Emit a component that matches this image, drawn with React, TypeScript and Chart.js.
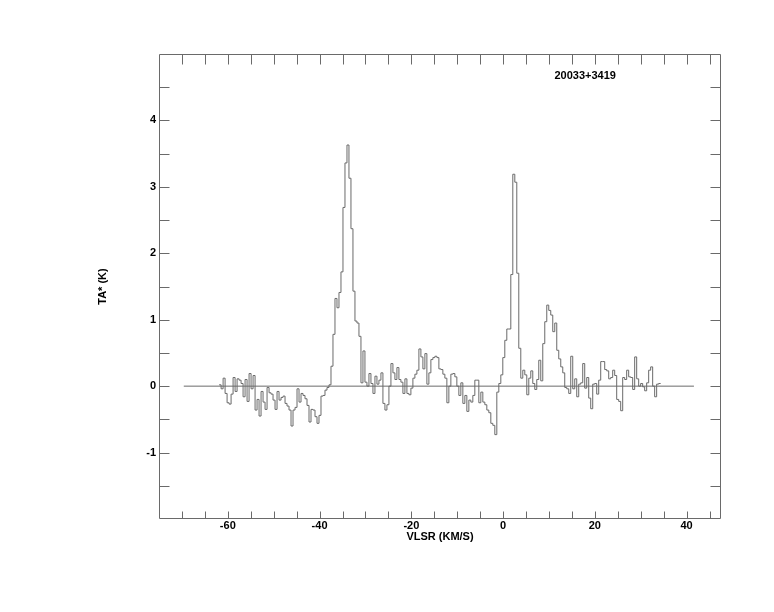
import React, { useEffect, useRef } from "react";
import { Chart, registerables } from "chart.js";

Chart.register(...registerables);

// ---- text ----
const SOURCE_NAME = "20033+3419";
const X_TITLE = "VLSR (KM/S)";
const Y_TITLE = "TA* (K)";

// ---- axes ----
const X_MIN = -75;
const X_MAX = 47.5;
const Y_MIN = -2;
const Y_MAX = 5;
const X_LABEL_TICKS = [-60, -40, -20, 0, 20, 40];
const Y_LABEL_TICKS = [-1, 0, 1, 2, 3, 4];
const X_MARK_TICKS = [-70, -65, -60, -55, -50, -45, -40, -35, -30, -25, -20, -15, -10, -5, 0, 5, 10, 15, 20, 25, 30, 35, 40, 45];
const Y_MARK_TICKS = [-1.5, -1, -0.5, 0, 0.5, 1, 1.5, 2, 2.5, 3, 3.5, 4, 4.5];

// ---- spectral axis (channel grid) ----
const FIRST_CHANNEL_EDGE = -61.9; // km/s, left edge of first channel
const CHANNEL_WIDTH = 0.4355; // km/s

// ---- antenna temperature per channel (K) ----
const TA_PART1 = [
  0.02, -0.04, 0.12, -0.11, -0.25, -0.27, -0.12, 0.13, -0.08, 0.11,
  0.09, 0.04, -0.16, 0.10, -0.23, 0.19, -0.04, 0.16, -0.36, -0.20,
  -0.45, -0.08, -0.24, -0.35, -0.02, -0.10, -0.12, -0.21, -0.35, -0.08,
  -0.21, -0.17, -0.15, -0.26, -0.30, -0.36, -0.60, -0.36, -0.32, -0.04,
  -0.24, -0.11, -0.14, -0.19, -0.29, -0.54, -0.35, -0.36, -0.46, -0.56,
  -0.44, -0.15, -0.14, -0.06, -0.02, 0.02,
];
const TA_PART2 = [
  0.30, 0.78, 1.32, 1.18, 1.41, 1.72, 2.69, 3.36, 3.63, 3.13,
  2.37, 1.43, 0.98, 0.95, 0.75, 0.05, 0.53, 0.06, 0.00, 0.19,
  0.04, -0.11, 0.15, 0.03, 0.09, 0.20, -0.26, -0.36, -0.28, 0.00,
  0.34, 0.20, 0.10, 0.28, 0.10, 0.06, -0.11, 0.11, -0.11, -0.13,
  -0.03, 0.12, 0.18, 0.24, 0.56, 0.44, 0.26, 0.49, 0.03, 0.20,
  0.40, 0.43, 0.45, 0.43, 0.26, 0.25,
];
const TA_PART3 = [
  0.18, 0.12, -0.25, 0.00, 0.18, 0.19, 0.14, 0.00, -0.14, 0.05,
  -0.26, -0.14, -0.38, -0.21, -0.24, -0.14, 0.09, 0.09, -0.25, -0.09,
  -0.24, -0.28, -0.36, -0.40, -0.56, -0.59, -0.73, -0.09, 0.04, 0.17,
  0.43, 0.69, 0.86, 0.86, 1.68, 3.19, 3.07, 1.70, 0.57, 0.12,
  0.24, 0.17, -0.13, 0.12, 0.23, 0.04, -0.05, 0.10, 0.39, 0.08,
  0.64, 0.97, 1.22, 1.14, 1.07, 0.82, 0.95,
];
const TA_PART4 = [
  0.54, 0.41, 0.29, 0.20, -0.02, -0.04, -0.11, 0.45, -0.04, 0.11,
  -0.16, 0.03, 0.05, 0.34, -0.03, 0.13, -0.18, -0.34, 0.03, 0.04,
  -0.12, 0.09, 0.37, 0.37, 0.25, 0.23, 0.11, 0.13, 0.24, 0.16,
  -0.20, -0.23, -0.37, 0.13, 0.10, 0.24, 0.14, 0.13, -0.05, 0.44,
  0.11, 0.00, 0.04, -0.01, -0.07, 0.05, 0.24, 0.29, 0.00, -0.16,
  0.03, 0.04,
];

// ---- baseline ----
const BASELINE_X = [-69.6, 41.6];
const BASELINE_Y = [0, 0];

// ---- source label anchor (data coords) ----
const LABEL_X = 17.9;
const LABEL_Y = 4.67;

const FONT_FAMILY = "'Liberation Sans', Arial, Helvetica, sans-serif";

export default function App() {
  const canvasRef = useRef<HTMLCanvasElement | null>(null);

  useEffect(() => {
    const canvas = canvasRef.current;
    if (!canvas) return;

    const ta = [...TA_PART1, ...TA_PART2, ...TA_PART3, ...TA_PART4];
    const spectrum = ta.map((v, i) => ({ x: FIRST_CHANNEL_EDGE + i * CHANNEL_WIDTH, y: v }));
    spectrum.push({ x: FIRST_CHANNEL_EDGE + ta.length * CHANNEL_WIDTH, y: ta[ta.length - 1] });
    const baseline = BASELINE_X.map((x, i) => ({ x, y: BASELINE_Y[i] }));

    const framePlugin = {
      id: "frameTicks",
      afterDraw(chart: any) {
        const { ctx, chartArea: a, scales } = chart;
        const xs = scales.x;
        const ys = scales.y;
        ctx.save();
        ctx.strokeStyle = "#6a6a6a";
        ctx.lineWidth = 1;
        const L = Math.round(a.left) + 0.5;
        const R = Math.round(a.right) - 0.5;
        const T = Math.round(a.top) + 0.5;
        const B = Math.round(a.bottom) - 0.5;
        ctx.beginPath();
        ctx.rect(L, T, R - L, B - T);
        X_MARK_TICKS.forEach((v) => {
          const px = Math.round(xs.getPixelForValue(v)) + 0.5;
          ctx.moveTo(px, B);
          ctx.lineTo(px, B - 7);
          ctx.moveTo(px, T);
          ctx.lineTo(px, T + 10);
        });
        Y_MARK_TICKS.forEach((v) => {
          const py = Math.round(ys.getPixelForValue(v)) + 0.5;
          ctx.moveTo(L, py);
          ctx.lineTo(L + 10, py);
          ctx.moveTo(R, py);
          ctx.lineTo(R - 10, py);
        });
        ctx.stroke();

        ctx.fillStyle = "#000";
        ctx.font = `bold 11px ${FONT_FAMILY}`;
        ctx.textAlign = "center";
        ctx.textBaseline = "middle";
        ctx.fillText(SOURCE_NAME, xs.getPixelForValue(LABEL_X), ys.getPixelForValue(LABEL_Y));
        ctx.restore();
      },
    };

    const tickFont = { family: FONT_FAMILY, size: 11, weight: "bold" as const };

    const chart = new Chart(canvas, {
      type: "line",
      data: {
        datasets: [
          {
            data: spectrum,
            stepped: "before",
            borderColor: "#6a6a6a",
            borderWidth: 1,
            pointRadius: 0,
            fill: false,
          },
          {
            data: baseline,
            borderColor: "#6a6a6a",
            borderWidth: 1,
            pointRadius: 0,
            fill: false,
          },
        ],
      },
      options: {
        animation: false,
        responsive: false,
        events: [],
        layout: { padding: { left: 0, top: 46, right: 45, bottom: 0 } },
        plugins: {
          legend: { display: false },
          tooltip: { enabled: false },
          title: { display: false },
        },
        scales: {
          x: {
            type: "linear",
            min: X_MIN,
            max: X_MAX,
            grid: { display: false, drawTicks: false },
            border: { display: false },
            afterBuildTicks: (scale: any) => {
              scale.ticks = X_LABEL_TICKS.map((v) => ({ value: v }));
            },
            afterFit: (scale: any) => {
              scale.height = 85;
            },
            ticks: {
              autoSkip: false,
              maxRotation: 0,
              minRotation: 0,
              padding: 0,
              color: "#000",
              font: tickFont,
            },
            title: {
              display: true,
              text: X_TITLE,
              color: "#000",
              font: tickFont,
              padding: { top: 0, bottom: 60 },
            },
          },
          y: {
            type: "linear",
            min: Y_MIN,
            max: Y_MAX,
            grid: { display: false, drawTicks: false },
            border: { display: false },
            afterBuildTicks: (scale: any) => {
              scale.ticks = Y_LABEL_TICKS.map((v) => ({ value: v }));
            },
            afterFit: (scale: any) => {
              scale.width = 151;
            },
            ticks: {
              padding: 3,
              color: "#000",
              font: tickFont,
            },
            title: {
              display: true,
              text: Y_TITLE,
              color: "#000",
              font: tickFont,
              padding: { top: 88, bottom: 0 },
            },
          },
        },
      },
      plugins: [framePlugin],
    });

    return () => chart.destroy();
  }, []);

  return (
    <div style={{ width: 758, height: 596 }}>
      <canvas ref={canvasRef} width={758} height={596} style={{ display: "block" }} />
    </div>
  );
}
